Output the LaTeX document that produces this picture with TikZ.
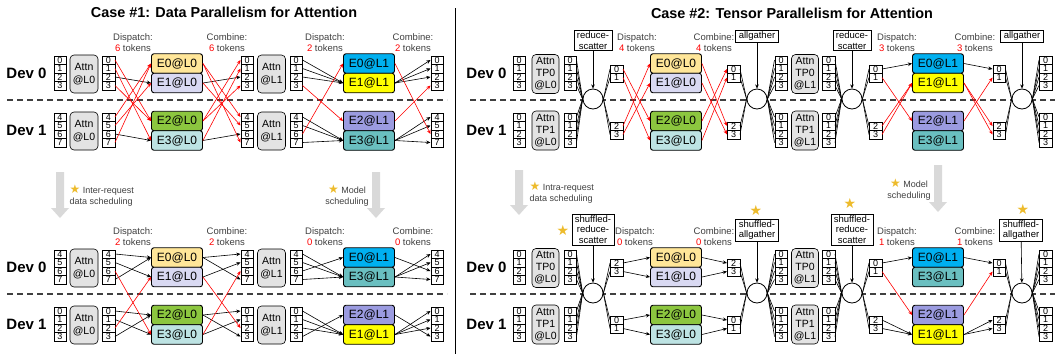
\documentclass[tikz,border=0pt]{standalone}
\usepackage{fontspec}
\setmainfont{Liberation Sans}
\newfontfamily\symfont{DejaVu Sans}
\usepackage{xcolor}
\usepackage{tikz}
\usetikzlibrary{arrows.meta,shadows}

\definecolor{eZero}{HTML}{FFE699}
\definecolor{eOne}{HTML}{D9D9F2}
\definecolor{eTwo}{HTML}{8CC63F}
\definecolor{eThree}{HTML}{BDE3E3}
\definecolor{fZero}{HTML}{00B0F0}
\definecolor{fOne}{HTML}{FFFF00}
\definecolor{fTwo}{HTML}{9B9BE0}
\definecolor{fThree}{HTML}{6ABFC0}
\definecolor{attngray}{HTML}{E3E3E3}
\definecolor{bargray}{HTML}{D9D9D9}
\definecolor{stargold}{HTML}{EDBB2C}
\definecolor{txtgray}{HTML}{404040}

\newcommand{\tokcol}[4]{%
  \foreach \lab [count=\k from 0] in {#4}
    \node[tok] (#1-\lab) at (#2,{#3+8.5*\k}) {\lab};}
\newcommand{\downbar}[3]{%
  \fill[bargray] ({#1-4},#2) -- ({#1+4},#2) -- ({#1+4},{#3-10})
    -- ({#1+9},{#3-10}) -- (#1,#3) -- ({#1-9},{#3-10}) -- ({#1-4},{#3-10}) -- cycle;}
\newcommand{\starmark}{\textcolor{stargold}{\symfont\fontsize{12}{11}\selectfont ★}}

\begin{document}
\begin{tikzpicture}[x=1pt,y=-1pt,>={Stealth[length=4.2pt,width=3.6pt]},
    tok/.style={draw,fill=white,line width=0.5pt,minimum width=12.5pt,minimum height=8.5pt,
      inner sep=0pt,font=\fontsize{9}{9}\selectfont,
      drop shadow={shadow xshift=0.7pt,shadow yshift=-0.7pt,fill=black,opacity=0.8}},
    attn/.style={draw,fill=attngray,rounded corners=4pt,line width=0.6pt,minimum width=28pt,
      minimum height=38pt,inner sep=0pt,align=center,font=\fontsize{10.5}{13}\selectfont},
    attntp/.style={attn,minimum width=27pt,minimum height=39pt,font=\fontsize{10.5}{12}\selectfont},
    expert/.style={draw,rounded corners=2.5pt,line width=0.9pt,minimum width=51pt,
      minimum height=19.5pt,inner sep=0pt,font=\fontsize{12}{12}\selectfont},
    ring/.style={draw,circle,fill=white,line width=0.8pt,minimum size=20pt,inner sep=0pt},
    opbox/.style={draw,fill=white,line width=0.6pt,inner xsep=3pt,inner ysep=1.5pt,
      align=center,font=\fontsize{9.5}{10.5}\selectfont},
    lbl/.style={align=center,text=txtgray,font=\fontsize{9.5}{11}\selectfont},
    devlab/.style={anchor=east,font=\bfseries\fontsize{15}{15}\selectfont},
    ttl/.style={font=\bfseries\fontsize{14.4}{15}\selectfont},
    note/.style={text=txtgray,font=\fontsize{9}{11}\selectfont},
    starnode/.style={text=stargold,inner sep=0pt,font=\symfont\fontsize{14}{14}\selectfont},
    devsep/.style={dash pattern=on 6pt off 4pt,line width=1.1pt,black!75},
    samedev/.style={->,line width=0.6pt},
    xdev/.style={->,red,line width=0.6pt},
    fan/.style={line width=0.6pt}]
  \useasboundingbox (0,0) rectangle (1055,354);

  % ---------------- Case 1 ----------------
  \node[ttl] (t1) at (224,12) {Case \#1: Data Parallelism for Attention};
  \draw[line width=0.8pt] (455,8) -- (455,354);

  % case 1, before scheduling
  \draw[devsep] (7,100) -- (447,100);
  \node[devlab] (aD0) at (50,73) {Dev 0};
  \node[devlab] (aD1) at (50,130) {Dev 1};
  \tokcol{a1}{60}{60}{0,1,2,3}
  \tokcol{a1}{60}{117}{4,5,6,7}
  \node[attn] (aA0) at (84,74) {Attn\\@L0};
  \node[attn] (aA1) at (84,131) {Attn\\@L0};
  \tokcol{a2}{108.5}{60}{0,1,2,3}
  \tokcol{a2}{108.5}{117}{4,5,6,7}
  \node[expert,fill=eZero] (aE0) at (177,63.5) {E0@L0};
  \node[expert,fill=eOne] (aE1) at (177,83) {E1@L0};
  \node[expert,fill=eTwo] (aE2) at (177,121) {E2@L0};
  \node[expert,fill=eThree] (aE3) at (177,140.5) {E3@L0};
  \tokcol{a3}{247}{60}{0,1,2,3}
  \tokcol{a3}{247}{117}{4,5,6,7}
  \node[attn] (aB0) at (271.5,74) {Attn\\@L1};
  \node[attn] (aB1) at (271.5,131) {Attn\\@L1};
  \tokcol{a4}{296}{60}{0,1,2,3}
  \tokcol{a4}{296}{117}{4,5,6,7}
  \node[expert,fill=fZero] (aF0) at (369,63.5) {E0@L1};
  \node[expert,fill=fOne] (aF1) at (369,83) {E1@L1};
  \node[expert,fill=fTwo] (aF2) at (369,121) {E2@L1};
  \node[expert,fill=fThree] (aF3) at (369,140.5) {E3@L1};
  \tokcol{a5}{437}{60}{0,1,2,3}
  \tokcol{a5}{437}{117}{4,5,6,7}
  \node[lbl] (aL1) at (133,42.5) {Dispatch:\\\textcolor{red}{6} tokens};
  \node[lbl] (aL2) at (227,42.5) {Combine:\\\textcolor{red}{6} tokens};
  \node[lbl] (aL3) at (325,42.5) {Dispatch:\\\textcolor{red}{2} tokens};
  \node[lbl] (aL4) at (413,42.5) {Combine:\\\textcolor{red}{2} tokens};
  \foreach \t/\e in {2/1,6/3} {
    \draw[samedev] (a2-\t.east) -- (aE\e.west);
    \draw[samedev] (aE\e.east) -- (a3-\t.west);}
  \foreach \t/\e in {0/2,1/3,3/2,4/0,5/1,7/0} {
    \draw[xdev] (a2-\t.east) -- (aE\e.west);
    \draw[xdev] (aE\e.east) -- (a3-\t.west);}
  \foreach \t/\e in {0/1,1/1,2/1,4/3,5/3,7/3} {
    \draw[samedev] (a4-\t.east) -- (aF\e.west);
    \draw[samedev] (aF\e.east) -- (a5-\t.west);}
  \foreach \t/\e in {3/2,6/0} {
    \draw[xdev] (a4-\t.east) -- (aF\e.west);
    \draw[xdev] (aF\e.east) -- (a5-\t.west);}

  % scheduling steps
  \downbar{60}{172}{218}
  \downbar{376}{172}{218}
  \node[note,align=left,anchor=west] (n1) at (66,195.5) {\starmark\ Inter-request\\data scheduling};
  \node[note,align=center] (n2) at (347,195.5) {\starmark\ Model\\scheduling};

  % case 1, after scheduling
  \begin{scope}[yshift=-194pt]
  \draw[devsep] (7,100) -- (447,100);
  \node[devlab] (bD0) at (50,73) {Dev 0};
  \node[devlab] (bD1) at (50,130) {Dev 1};
  \tokcol{b1}{60}{60}{4,5,6,7}
  \tokcol{b1}{60}{117}{0,1,2,3}
  \node[attn] (bA0) at (84,74) {Attn\\@L0};
  \node[attn] (bA1) at (84,131) {Attn\\@L0};
  \tokcol{b2}{108.5}{60}{4,5,6,7}
  \tokcol{b2}{108.5}{117}{0,1,2,3}
  \node[expert,fill=eZero] (bE0) at (177,63.5) {E0@L0};
  \node[expert,fill=eOne] (bE1) at (177,83) {E1@L0};
  \node[expert,fill=eTwo] (bE2) at (177,121) {E2@L0};
  \node[expert,fill=eThree] (bE3) at (177,140.5) {E3@L0};
  \tokcol{b3}{247}{60}{4,5,6,7}
  \tokcol{b3}{247}{117}{0,1,2,3}
  \node[attn] (bB0) at (271.5,74) {Attn\\@L1};
  \node[attn] (bB1) at (271.5,131) {Attn\\@L1};
  \tokcol{b4}{296}{60}{4,5,6,7}
  \tokcol{b4}{296}{117}{0,1,2,3}
  \node[expert,fill=fZero] (bF0) at (369,63.5) {E0@L1};
  \node[expert,fill=fThree] (bF3) at (369,83) {E3@L1};
  \node[expert,fill=fTwo] (bF2) at (369,121) {E2@L1};
  \node[expert,fill=fOne] (bF1) at (369,140.5) {E1@L1};
  \tokcol{b5}{437}{60}{4,5,6,7}
  \tokcol{b5}{437}{117}{0,1,2,3}
  \node[lbl] (bL1) at (133,42.5) {Dispatch:\\\textcolor{red}{2} tokens};
  \node[lbl] (bL2) at (227,42.5) {Combine:\\\textcolor{red}{2} tokens};
  \node[lbl] (bL3) at (325,42.5) {Dispatch:\\\textcolor{red}{0} tokens};
  \node[lbl] (bL4) at (413,42.5) {Combine:\\\textcolor{red}{0} tokens};
  \foreach \t/\e in {4/0,5/1,7/0,0/2,1/3,3/2} {
    \draw[samedev] (b2-\t.east) -- (bE\e.west);
    \draw[samedev] (bE\e.east) -- (b3-\t.west);}
  \foreach \t/\e in {6/3,2/1} {
    \draw[xdev] (b2-\t.east) -- (bE\e.west);
    \draw[xdev] (bE\e.east) -- (b3-\t.west);}
  \foreach \t/\e in {4/3,5/3,6/0,7/3,0/1,1/1,2/1,3/2} {
    \draw[samedev] (b4-\t.east) -- (bF\e.west);
    \draw[samedev] (bF\e.east) -- (b5-\t.west);}
  \end{scope}

  % ---------------- Case 2 ----------------
  \node[ttl] (t2) at (792,13) {Case \#2: Tensor Parallelism for Attention};

  % case 2, before scheduling
  \draw[devsep] (470,100) -- (1055,100);
  \node[devlab] (cD0) at (510,73) {Dev 0};
  \node[devlab] (cD1) at (510,130) {Dev 1};
  \tokcol{c1-0}{519}{60}{0,1,2,3}
  \tokcol{c1-1}{519}{117}{0,1,2,3}
  \node[attntp] (cA0) at (545.5,74) {Attn\\TP0\\@L0};
  \node[attntp] (cA1) at (545.5,130.5) {Attn\\TP1\\@L0};
  \tokcol{c2-0}{570}{60}{0,1,2,3}
  \tokcol{c2-1}{570}{117}{0,1,2,3}
  \node[ring] (cX1) at (593,99) {};
  \tokcol{c3}{616.5}{69}{0,1}
  \tokcol{c3}{616.5}{126}{2,3}
  \node[expert,fill=eZero] (cE0) at (676,63.5) {E0@L0};
  \node[expert,fill=eOne] (cE1) at (676,83) {E1@L0};
  \node[expert,fill=eTwo] (cE2) at (676,121) {E2@L0};
  \node[expert,fill=eThree] (cE3) at (676,140.5) {E3@L0};
  \tokcol{c4}{733.5}{69}{0,1}
  \tokcol{c4}{733.5}{126}{2,3}
  \node[ring] (cX2) at (757,99) {};
  \tokcol{c5-0}{781}{60}{0,1,2,3}
  \tokcol{c5-1}{781}{117}{0,1,2,3}
  \node[attntp] (cB0) at (805,74) {Attn\\TP0\\@L1};
  \node[attntp] (cB1) at (805,130.5) {Attn\\TP1\\@L1};
  \tokcol{c6-0}{828.5}{60}{0,1,2,3}
  \tokcol{c6-1}{828.5}{117}{0,1,2,3}
  \node[ring] (cX3) at (852,99) {};
  \tokcol{c7}{875.5}{69}{0,1}
  \tokcol{c7}{875.5}{126}{2,3}
  \node[expert,fill=fZero] (cF0) at (938,63.5) {E0@L1};
  \node[expert,fill=fOne] (cF1) at (938,83) {E1@L1};
  \node[expert,fill=fTwo] (cF2) at (938,121) {E2@L1};
  \node[expert,fill=fThree] (cF3) at (938,140.5) {E3@L1};
  \tokcol{c8}{999}{69}{0,1}
  \tokcol{c8}{999}{126}{2,3}
  \node[ring] (cX4) at (1022,99) {};
  \tokcol{c9-0}{1045.5}{60}{0,1,2,3}
  \tokcol{c9-1}{1045.5}{117}{0,1,2,3}
  \node[opbox] (cO1) at (593,40.5) {reduce-\\scatter};
  \node[opbox] (cO2) at (757,36) {allgather};
  \node[opbox] (cO3) at (852,40.5) {reduce-\\scatter};
  \node[opbox] (cO4) at (1022,36) {allgather};
  \foreach \o in {1,2,3,4} \draw[->,line width=0.6pt] (cO\o) -- (cX\o);
  \node[lbl] (cL1) at (637,42.5) {Dispatch:\\\textcolor{red}{4} tokens};
  \node[lbl] (cL2) at (714,42.5) {Combine:\\\textcolor{red}{4} tokens};
  \node[lbl] (cL3) at (897,42.5) {Dispatch:\\\textcolor{red}{3} tokens};
  \node[lbl] (cL4) at (975,42.5) {Combine:\\\textcolor{red}{3} tokens};
  \foreach \d in {0,1} \foreach \t in {0,...,3} {
    \draw[fan] (c2-\d-\t.east) -- (cX1.west);
    \draw[fan] (cX2.east) -- (c5-\d-\t.west);
    \draw[fan] (c6-\d-\t.east) -- (cX3.west);
    \draw[fan] (cX4.east) -- (c9-\d-\t.west);}
  \foreach \t in {0,...,3} {
    \draw[fan] (cX1.east) -- (c3-\t.west);
    \draw[fan] (c4-\t.east) -- (cX2.west);
    \draw[fan] (cX3.east) -- (c7-\t.west);
    \draw[fan] (c8-\t.east) -- (cX4.west);}
  \foreach \t/\e in {0/2,1/3,2/0,3/1} {
    \draw[xdev] (c3-\t.east) -- (cE\e.west);
    \draw[xdev] (cE\e.east) -- (c4-\t.west);}
  \draw[samedev] (c7-0.east) -- (cF0.west);
  \draw[samedev] (cF0.east) -- (c8-0.west);
  \foreach \t/\e in {1/2,2/1,3/1} {
    \draw[xdev] (c7-\t.east) -- (cF\e.west);
    \draw[xdev] (cF\e.east) -- (c8-\t.west);}

  % scheduling steps
  \downbar{519}{170}{215}
  \downbar{938}{165}{212}
  \node[note,align=left,anchor=west] (n3) at (526,192.5) {\starmark\ Intra-request\\data scheduling};
  \node[note,align=center] (n4) at (909,189.5) {\starmark\ Model\\scheduling};

  % case 2, after scheduling
  \begin{scope}[yshift=-194pt]
  \draw[devsep] (470,100) -- (1055,100);
  \node[devlab] (dD0) at (510,73) {Dev 0};
  \node[devlab] (dD1) at (510,130) {Dev 1};
  \tokcol{d1-0}{519}{60}{0,1,2,3}
  \tokcol{d1-1}{519}{117}{0,1,2,3}
  \node[attntp] (dA0) at (545.5,74) {Attn\\TP0\\@L0};
  \node[attntp] (dA1) at (545.5,130.5) {Attn\\TP1\\@L0};
  \tokcol{d2-0}{570}{60}{0,1,2,3}
  \tokcol{d2-1}{570}{117}{0,1,2,3}
  \node[ring] (dX1) at (593,99) {};
  \tokcol{d3}{616.5}{69}{2,3}
  \tokcol{d3}{616.5}{126}{0,1}
  \node[expert,fill=eZero] (dE0) at (676,63.5) {E0@L0};
  \node[expert,fill=eOne] (dE1) at (676,83) {E1@L0};
  \node[expert,fill=eTwo] (dE2) at (676,121) {E2@L0};
  \node[expert,fill=eThree] (dE3) at (676,140.5) {E3@L0};
  \tokcol{d4}{733.5}{69}{2,3}
  \tokcol{d4}{733.5}{126}{0,1}
  \node[ring] (dX2) at (757,99) {};
  \tokcol{d5-0}{781}{60}{0,1,2,3}
  \tokcol{d5-1}{781}{117}{0,1,2,3}
  \node[attntp] (dB0) at (805,74) {Attn\\TP0\\@L1};
  \node[attntp] (dB1) at (805,130.5) {Attn\\TP1\\@L1};
  \tokcol{d6-0}{828.5}{60}{0,1,2,3}
  \tokcol{d6-1}{828.5}{117}{0,1,2,3}
  \node[ring] (dX3) at (852,99) {};
  \tokcol{d7}{875.5}{69}{0,1}
  \tokcol{d7}{875.5}{126}{2,3}
  \node[expert,fill=fZero] (dF0) at (938,63.5) {E0@L1};
  \node[expert,fill=fThree] (dF3) at (938,83) {E3@L1};
  \node[expert,fill=fTwo] (dF2) at (938,121) {E2@L1};
  \node[expert,fill=fOne] (dF1) at (938,140.5) {E1@L1};
  \tokcol{d8}{999}{69}{0,1}
  \tokcol{d8}{999}{126}{2,3}
  \node[ring] (dX4) at (1022,99) {};
  \tokcol{d9-0}{1045.5}{60}{0,1,2,3}
  \tokcol{d9-1}{1045.5}{117}{0,1,2,3}
  \node[opbox] (dO1) at (593,35.5) {shuffled-\\reduce-\\scatter};
  \node[opbox] (dO2) at (757,36) {shuffled-\\allgather};
  \node[opbox] (dO3) at (852,35.5) {shuffled-\\reduce-\\scatter};
  \node[opbox] (dO4) at (1021,36) {shuffled-\\allgather};
  \foreach \o in {1,2,3,4} \draw[->,line width=0.6pt] (dO\o) -- (dX\o);
  \node[starnode] (dS1) at (563,36) {★};
  \node[starnode] (dS2) at (756,16) {★};
  \node[starnode] (dS3) at (850,9) {★};
  \node[starnode] (dS4) at (1023,15) {★};
  \node[lbl] (dL1) at (635,43) {Dispatch:\\\textcolor{red}{0} tokens};
  \node[lbl] (dL2) at (714,43) {Combine:\\\textcolor{red}{0} tokens};
  \node[lbl] (dL3) at (897,43) {Dispatch:\\\textcolor{red}{1} tokens};
  \node[lbl] (dL4) at (975,43) {Combine:\\\textcolor{red}{1} tokens};
  \foreach \d in {0,1} \foreach \t in {0,...,3} {
    \draw[fan] (d2-\d-\t.east) -- (dX1.west);
    \draw[fan] (dX2.east) -- (d5-\d-\t.west);
    \draw[fan] (d6-\d-\t.east) -- (dX3.west);
    \draw[fan] (dX4.east) -- (d9-\d-\t.west);}
  \foreach \t in {0,...,3} {
    \draw[fan] (dX1.east) -- (d3-\t.west);
    \draw[fan] (d4-\t.east) -- (dX2.west);
    \draw[fan] (dX3.east) -- (d7-\t.west);
    \draw[fan] (d8-\t.east) -- (dX4.west);}
  \foreach \t/\e in {0/2,1/3,2/0,3/1} {
    \draw[samedev] (d3-\t.east) -- (dE\e.west);
    \draw[samedev] (dE\e.east) -- (d4-\t.west);}
  \foreach \t/\e in {0/0,2/1,3/1} {
    \draw[samedev] (d7-\t.east) -- (dF\e.west);
    \draw[samedev] (dF\e.east) -- (d8-\t.west);}
  \draw[xdev] (d7-1.east) -- (dF2.west);
  \draw[xdev] (dF2.east) -- (d8-1.west);
  \end{scope}
\end{tikzpicture}
\end{document}
